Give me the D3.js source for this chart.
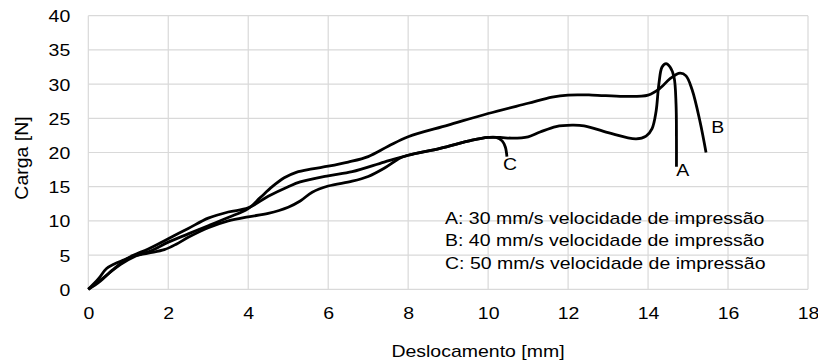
<!DOCTYPE html>
<html>
<head>
<meta charset="utf-8">
<script src="https://cdn.jsdelivr.net/npm/d3@7"></script>
<style>
  html, body { margin: 0; padding: 0; background: #fff; }
  svg { display: block; }
  text { font-family: "Liberation Sans", Arial, sans-serif; fill: #000; }
</style>
</head>
<body>
<svg id="chart" width="818" height="362"></svg>
<script>
// ---- data (displacement mm, load N) ----
const xTicks = [0, 2, 4, 6, 8, 10, 12, 14, 16, 18];
const yTicks = [0, 5, 10, 15, 20, 25, 30, 35, 40];
const xTitle = "Deslocamento [mm]";
const yTitle = "Carga [N]";

const curveA = [[0,0],[0.25,1.5],[0.45,3.0],[0.65,3.7],[0.9,4.3],[1.1,4.8],[1.5,5.3],[1.9,5.8],[2.2,6.6],
  [2.5,7.6],[3,9],[3.5,10],[4,10.6],[4.5,11.1],[5,12],[5.3,12.9],[5.6,14.2],[6,15.1],[6.6,15.8],[7,16.5],
  [7.4,17.7],[7.8,19.2],[8,19.6],[8.8,20.6],[9.6,21.8],[10,22.2],[10.3,22.2],[10.6,22.1],[11,22.3],
  [11.3,23],[11.7,23.8],[12.1,24],[12.4,23.9],[13,22.9],[13.7,22],[13.95,22.4],[14.1,23.5],[14.2,26],
  [14.27,30],[14.35,32.5],[14.45,33],[14.55,32.5],[14.65,31],[14.7,27],[14.71,22],[14.71,17.9]];

const curveB = [[0,0],[0.4,1.8],[0.8,3.6],[1.2,4.9],[1.6,5.7],[2,6.9],[2.5,8.1],[3,9.3],[3.5,10.5],[4,11.8],
  [4.3,13.4],[4.6,15],[4.9,16.3],[5.2,17.1],[5.6,17.6],[6,18],[6.5,18.6],[7,19.4],[7.5,20.9],[8,22.3],
  [9,24],[10,25.7],[11,27.2],[11.6,28.1],[12,28.4],[12.6,28.4],[13.4,28.2],[14,28.4],[14.3,29.4],
  [14.55,30.8],[14.8,31.6],[14.95,31.2],[15.1,29.2],[15.3,24.5],[15.45,20]];

const curveC = [[0,0],[0.3,1.2],[0.6,2.8],[1,4.6],[1.5,5.9],[2,7.4],[2.5,8.9],[3,10.4],[3.5,11.3],[4,11.9],
  [4.5,13.6],[5,15],[5.3,15.7],[6,16.6],[6.6,17.2],[7.4,18.6],[8,19.6],[8.8,20.6],[9.6,21.8],[10,22.2],
  [10.2,22.2],[10.35,21.7],[10.43,20.8],[10.47,19.4]];

const curveLabels = ["A", "B", "C"];
const curveLabelPos = [[14.87, 16.6], [15.74, 22.9], [10.55, 17.5]];

const legendLines = [
  "A: 30 mm/s velocidade de impressão",
  "B: 40 mm/s velocidade de impressão",
  "C: 50 mm/s velocidade de impressão"
];

(function () {
// ---- layout ----
const svg = d3.select("#chart");
const pL = 88.3, pR = 808, pT = 15.7, pB = 289.3;
const x = d3.scaleLinear().domain([0, 18]).range([pL, pR]);
const y = d3.scaleLinear().domain([0, 40]).range([pB, pT]);
const FS = 17.4;
const SX = 1.12;

// grid
const g = svg.append("g");
g.selectAll("line.h").data(yTicks).join("line")
  .attr("x1", pL).attr("x2", pR)
  .attr("y1", d => y(d)).attr("y2", d => y(d))
  .attr("stroke", "#d9d9d9").attr("stroke-width", 1.2);
g.selectAll("line.v").data(xTicks).join("line")
  .attr("y1", pT).attr("y2", pB)
  .attr("x1", d => x(d)).attr("x2", d => x(d))
  .attr("stroke", "#d9d9d9").attr("stroke-width", 1.2);

// axes (text only, via d3 axes)
const xAxis = svg.append("g").attr("transform", `translate(0,${pB})`)
  .call(d3.axisBottom(x).tickValues(xTicks).tickSize(0).tickPadding(0).tickFormat(d3.format("d")));
xAxis.select(".domain").remove();
xAxis.selectAll("text")
  .attr("y", 0).attr("dy", 0)
  .attr("transform", `translate(0,30) scale(${SX},1)`)
  .attr("font-size", FS).attr("font-family", "Liberation Sans, Arial, sans-serif").attr("fill", "#000");

const yAxis = svg.append("g").attr("transform", `translate(${pL},0)`)
  .call(d3.axisLeft(y).tickValues(yTicks).tickSize(0).tickPadding(0).tickFormat(d3.format("d")));
yAxis.select(".domain").remove();
yAxis.selectAll("text")
  .attr("x", 0).attr("dy", 0)
  .attr("transform", `translate(-18,6) scale(${SX},1)`)
  .attr("font-size", FS).attr("font-family", "Liberation Sans, Arial, sans-serif").attr("fill", "#000");

// titles
svg.append("text")
  .attr("transform", `translate(478,357) scale(${SX},1)`)
  .attr("text-anchor", "middle").attr("font-size", FS).text(xTitle);
svg.append("text")
  .attr("transform", `translate(28,158) rotate(-90) scale(${SX},1.05)`)
  .attr("text-anchor", "middle").attr("font-size", FS).text(yTitle);

// curves
const line = d3.line().x(d => x(d[0])).y(d => y(d[1])).curve(d3.curveCatmullRom.alpha(0.5));
[curveA, curveB, curveC].forEach(c => {
  svg.append("path").datum(c).attr("d", line)
    .attr("fill", "none").attr("stroke", "#000").attr("stroke-width", 2.8)
    .attr("stroke-linejoin", "round").attr("stroke-linecap", "butt");
});

// curve labels
svg.selectAll("text.cl").data(curveLabels).join("text")
  .attr("class", "cl")
  .attr("transform", (d, i) => `translate(${x(curveLabelPos[i][0])},${y(curveLabelPos[i][1])}) scale(${SX},1)`)
  .attr("text-anchor", "middle").attr("font-size", FS).text(d => d);

// legend text
svg.selectAll("text.lg").data(legendLines).join("text")
  .attr("class", "lg")
  .attr("transform", (d, i) => `translate(445,${224 + i * 22.3}) scale(${SX},1)`)
  .attr("font-size", FS).text(d => d);
})();
</script>
</body>
</html>
